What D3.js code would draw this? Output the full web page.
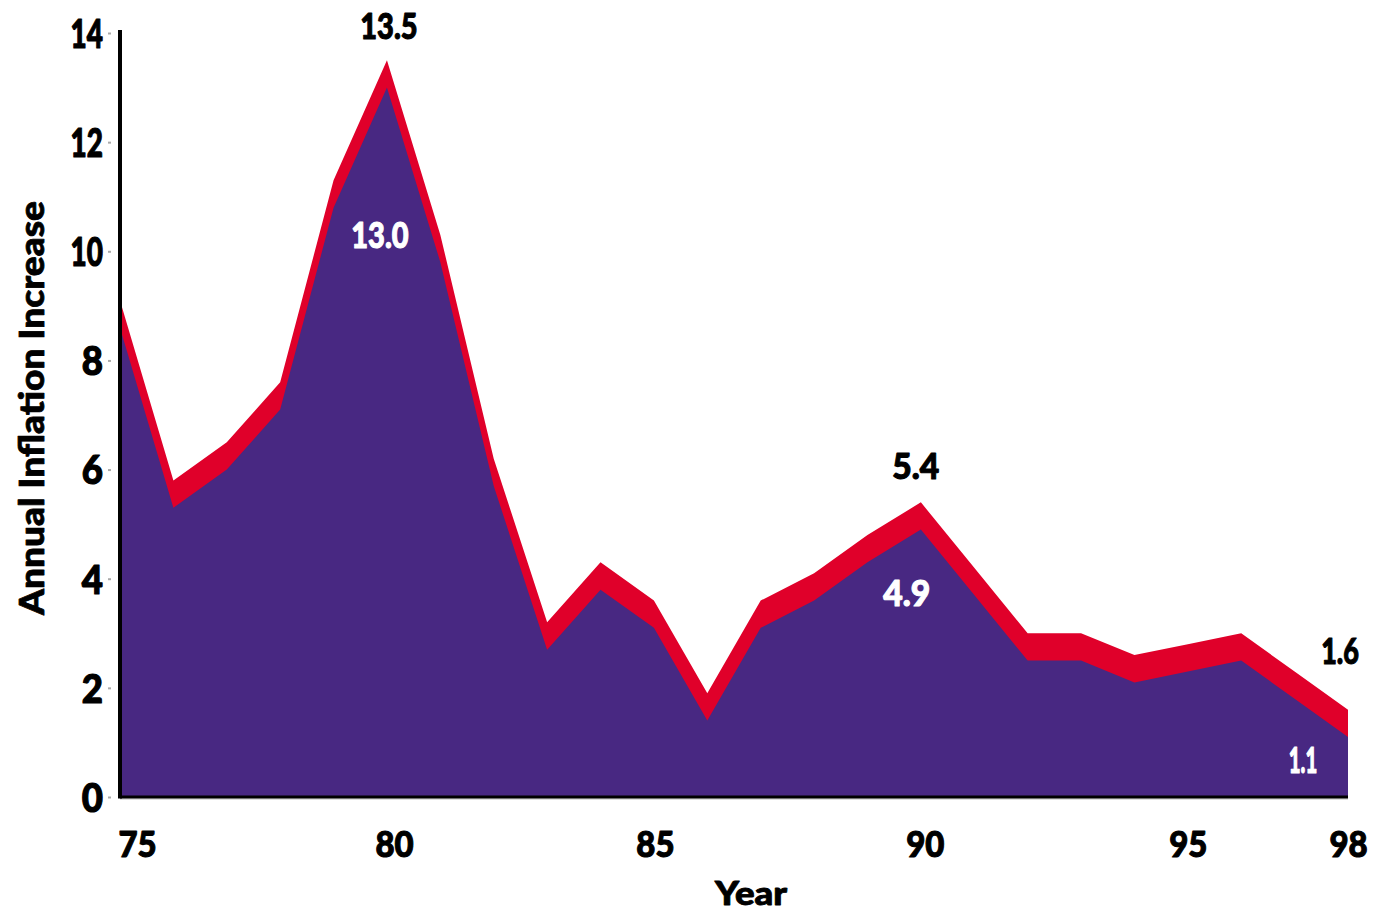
<!DOCTYPE html>
<html>
<head>
<meta charset="utf-8">
<script src="https://cdn.jsdelivr.net/npm/d3@7"></script>
<style>
  html, body { margin: 0; padding: 0; background: #fff; }
  svg { display: block; }
  text { font-family: Lato, "Open Sans", sans-serif; font-weight: 900; }
</style>
</head>
<body>
<svg id="chart" width="1375" height="915"></svg>
<script>
// Annual inflation, 1975–1998: reported CPI and the series adjusted down
const years = [1975, 1976, 1977, 1978, 1979, 1980, 1981, 1982, 1983, 1984, 1985, 1986,
               1987, 1988, 1989, 1990, 1991, 1992, 1993, 1994, 1995, 1996, 1997, 1998];
const cpiReported = [9.1, 5.8, 6.5, 7.6, 11.3, 13.5, 10.3, 6.2, 3.2, 4.3, 3.6, 1.9,
                     3.6, 4.1, 4.8, 5.4, 4.2, 3.0, 3.0, 2.6, 2.8, 3.0, 2.3, 1.6];
const cpiAdjusted = [8.6, 5.3, 6.0, 7.1, 10.8, 13.0, 9.8, 5.7, 2.7, 3.8, 3.1, 1.4,
                     3.1, 3.6, 4.3, 4.9, 3.7, 2.5, 2.5, 2.1, 2.3, 2.5, 1.8, 1.1];
const yTickValues = [0, 2, 4, 6, 8, 10, 12, 14];
const xTickValues = [1975, 1980, 1985, 1990, 1995, 1998];
const xTickLabels = ["75", "80", "85", "90", "95", "98"];
// Callouts: year, which series, text
const callouts = [
  { year: 1980, series: "reported", text: "13.5" },
  { year: 1990, series: "reported", text: "5.4" },
  { year: 1998, series: "reported", text: "1.6" },
  { year: 1980, series: "adjusted", text: "13.0" },
  { year: 1990, series: "adjusted", text: "4.9" },
  { year: 1998, series: "adjusted", text: "1.1" }
];

const svg = d3.select("#chart");
const plotLeft = 120, plotRight = 1348, plotTop = 33, plotBottom = 797;

const x = d3.scaleLinear().domain([1975, 1998]).range([plotLeft, plotRight]);
const y = d3.scaleLinear().domain([0, 14]).range([plotBottom, plotTop]);

const RED = "#e0002a";
const PURPLE = "#482882";

const reportedData = years.map((yr, i) => ({ year: yr, v: cpiReported[i] }));
const adjustedData = years.map((yr, i) => ({ year: yr, v: cpiAdjusted[i] }));

const area = d3.area()
  .x(d => x(d.year))
  .y0(y(0))
  .y1(d => y(d.v));

svg.append("path").datum(reportedData).attr("d", area).attr("fill", RED);
svg.append("path").datum(adjustedData).attr("d", area).attr("fill", PURPLE);

// Narrow numeral setting: a slim "1", tight full stop, narrow digits
function numeralWidth(str, size) {
  let w = 0;
  for (const ch of str) w += ch === "1" ? 0.28 : ch === "." ? 0.21 : 0.53;
  return w * size;
}
function setNarrow(sel, size) {
  sel.each(function () {
    const s = d3.select(this);
    s.attr("textLength", numeralWidth(s.text(), size)).attr("lengthAdjust", "spacingAndGlyphs");
  });
}
// heavier strokes for the display type
function heavy(sel, colour, w) {
  sel.attr("stroke", colour).attr("stroke-width", w).attr("stroke-linejoin", "round");
}

// Y axis
const yAxis = d3.axisLeft(y).tickValues(yTickValues).tickSize(3).tickPadding(5).tickFormat(d3.format("d"));
const gy = svg.append("g").attr("transform", `translate(${plotLeft - 9},0)`).call(yAxis);
gy.select(".domain").remove();
gy.selectAll(".tick line").attr("stroke", "#aaa").attr("stroke-width", 2);
gy.selectAll(".tick text")
  .attr("font-size", 40).attr("fill", "#000").attr("dy", "0.36em")
  .style("font-family", "Lato, sans-serif").style("font-weight", 900);
setNarrow(gy.selectAll(".tick text"), 40);
heavy(gy.selectAll(".tick text"), "#000", 1.2);

// X axis
const xLabelShift = [-2, 7, 1, 4, 0, 0];
const xAxis = d3.axisBottom(x).tickValues(xTickValues).tickSize(0).tickPadding(34)
  .tickFormat((d, i) => xTickLabels[i]);
const gx = svg.append("g").attr("transform", `translate(0,${plotBottom})`).call(xAxis);
gx.select(".domain").remove();
gx.selectAll(".tick text")
  .attr("font-size", 36).attr("fill", "#000").attr("dy", "0.72em")
  .attr("dx", (d, i) => xLabelShift[i])
  .style("font-family", "Lato, sans-serif").style("font-weight", 900);
gx.selectAll(".tick text").filter((d, i) => i === 0).attr("text-anchor", "start");
setNarrow(gx.selectAll(".tick text"), 36);
heavy(gx.selectAll(".tick text"), "#000", 1.1);

// Axis lines
svg.append("line").attr("x1", plotLeft).attr("x2", plotRight).attr("y1", plotBottom + 2).attr("y2", plotBottom + 2)
  .attr("stroke", "#bbb").attr("stroke-width", 1);
svg.append("line").attr("x1", plotLeft).attr("x2", plotRight).attr("y1", plotBottom).attr("y2", plotBottom)
  .attr("stroke", "#000").attr("stroke-width", 3);
svg.append("line").attr("x1", plotLeft).attr("x2", plotLeft).attr("y1", 30).attr("y2", plotBottom + 1.5)
  .attr("stroke", "#000").attr("stroke-width", 4);

// Axis titles
const xTitle = svg.append("text").attr("x", 751).attr("y", 905).attr("text-anchor", "middle")
  .attr("font-size", 33).attr("fill", "#000")
  .attr("textLength", 72).attr("lengthAdjust", "spacingAndGlyphs")
  .text("Year");
heavy(xTitle, "#000", 0.9);
const yTitle = svg.append("text").attr("transform", "translate(44,408) rotate(-90)")
  .attr("text-anchor", "middle").attr("font-size", 34).attr("fill", "#000")
  .attr("textLength", 414).attr("lengthAdjust", "spacingAndGlyphs")
  .text("Annual Inflation Increase");
heavy(yTitle, "#000", 0.8);

// Value callouts
const offsets = {
  "reported-1980": { dx: 2, dy: -21 },
  "reported-1990": { dx: -5, dy: -23 },
  "reported-1998": { dx: -8, dy: -46 },
  "adjusted-1980": { dx: -7, dy: 160 },
  "adjusted-1990": { dx: -14, dy: 76 },
  "adjusted-1998": { dx: -45, dy: 36 }
};
callouts.forEach(c => {
  const idx = years.indexOf(c.year);
  const v = c.series === "reported" ? cpiReported[idx] : cpiAdjusted[idx];
  const o = offsets[`${c.series}-${c.year}`];
  const colour = c.series === "reported" ? "#000" : "#fff";
  const t = svg.append("text")
    .attr("x", x(c.year) + o.dx)
    .attr("y", y(v) + o.dy)
    .attr("text-anchor", "middle")
    .attr("font-size", 36)
    .attr("fill", colour)
    .text(c.text);
  setNarrow(t, 37);
  heavy(t, colour, 1.1);
});
</script>
</body>
</html>
